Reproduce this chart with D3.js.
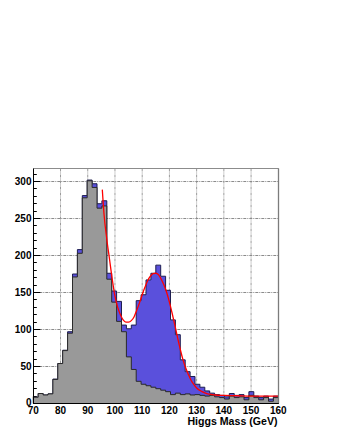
<!DOCTYPE html>
<html>
<head>
<meta charset="utf-8">
<script src="https://cdn.jsdelivr.net/npm/d3@7"></script>
<style>
  html, body { margin: 0; padding: 0; background: #fff; }
  svg { display: block; }
  text { font-family: "Liberation Sans", Arial, Helvetica, sans-serif; font-weight: bold; fill: #000; }
</style>
</head>
<body>
<div id="chart"></div>
<script>
// ---- data ----
const massMin = 70;
const massMax = 160;
const binWidth = 1.8;
// total (signal + background), drawn blue underneath
const totalCounts = [8.5, 13.5, 11.5, 13, 33, 54, 72, 97, 175, 208,
  281, 302, 297, 270, 274, 176, 152, 138, 106, 101,
  106, 139, 147, 167, 176, 187, 172, 153, 113, 93,
  59, 43, 36.5, 26, 22, 17, 14, 12, 11, 9,
  13.5, 11, 12, 8, 16, 10, 8, 10, 6, 10];
// background only, drawn grey on top
const backgroundCounts = [8.5, 13.5, 11.5, 13, 32.5, 54, 71.5, 95, 171, 203,
  278, 301, 292, 264, 267, 168, 137, 111, 97, 63,
  46, 30, 26, 24, 22, 20, 18, 16, 12, 14,
  12, 13, 11.5, 12, 11, 10, 11, 9, 8, 6,
  10, 8, 9, 5, 11, 8, 5, 8, 3, 8];
// fitted curve
const fitMass  = [95.35, 96, 97, 98, 99, 100, 101, 102, 103, 104, 105, 106, 107, 108, 109, 110,
  111, 112, 113, 114, 115, 116, 117, 118, 119, 120, 121, 122, 123, 124, 125, 126, 127, 128,
  129, 130, 132, 134, 137, 140, 145, 150, 155, 160];
const fitValue = [289, 255, 222, 195, 168, 145, 130, 120, 113, 110, 110, 112, 117, 126, 136, 147,
  157, 166, 172, 175.5, 176, 174, 168, 160, 150, 137, 122, 106, 89, 73, 59, 48, 39, 31,
  25.5, 21, 16, 13, 11.5, 11, 10.5, 10, 10, 10];
const xTicks = [70, 80, 90, 100, 110, 120, 130, 140, 150, 160];
const yTicks = [0, 50, 100, 150, 200, 250, 300];
const yMax = 317.6;
const xTitle = "Higgs Mass (GeV)";

// ---- layout ----
const W = 337, H = 436;
const pL = 33.3, pR = 278.3, pT = 168.5, pB = 403.5;

const svg = d3.select("#chart").append("svg").attr("width", W).attr("height", H);
svg.append("rect").attr("width", W).attr("height", H).attr("fill", "#fff");

const x = d3.scaleLinear().domain([massMin, massMax]).range([pL, pR]);
const y = d3.scaleLinear().domain([0, yMax]).range([pB, pT]);

// grid
const grid = svg.append("g");
grid.selectAll("line.vg").data(xTicks.filter(d => d > massMin && d < massMax)).join("line")
  .attr("x1", d => x(d)).attr("x2", d => x(d)).attr("y1", pT).attr("y2", pB)
  .attr("stroke", "#9a9a9a").attr("stroke-width", 1).attr("stroke-dasharray", "3,1,1,1");
grid.selectAll("line.hg").data(yTicks.filter(d => d > 0)).join("line")
  .attr("x1", pL).attr("x2", pR).attr("y1", d => y(d)).attr("y2", d => y(d))
  .attr("stroke", "#8a8a8a").attr("stroke-width", 1).attr("stroke-dasharray", "3,1,1,1");

// ticks (inside the frame)
const yMinor = d3.range(0, yMax, 10);
svg.append("g").selectAll("line").data(yMinor).join("line")
  .attr("x1", pL).attr("x2", d => pL + (d % 50 === 0 ? 7 : 3.5))
  .attr("y1", d => Math.round(y(d) - 0.5) + 0.5).attr("y2", d => Math.round(y(d) - 0.5) + 0.5)
  .attr("stroke", "#000").attr("stroke-width", 1);
const xMinor = d3.range(massMin, massMax + 0.01, 2);
svg.append("g").selectAll("line").data(xMinor).join("line")
  .attr("x1", d => x(d)).attr("x2", d => x(d))
  .attr("y1", pB).attr("y2", d => pB - ((d - massMin) % 10 === 0 ? 7 : 3.5))
  .attr("stroke", "#000").attr("stroke-width", 1);

// histograms
function toSteps(counts) {
  const pts = counts.map((v, i) => ({ m: massMin + i * binWidth, v }));
  pts.push({ m: massMax, v: counts[counts.length - 1] });
  return pts;
}
const area = d3.area().curve(d3.curveStepAfter)
  .x(d => x(d.m)).y0(y(0)).y1(d => y(d.v));
const line = d3.line().curve(d3.curveStepAfter)
  .x(d => x(d.m)).y(d => y(d.v));

const totalPts = toSteps(totalCounts);
const bgPts = toSteps(backgroundCounts);

svg.append("path").datum(totalPts).attr("d", area).attr("fill", "#5a50dc");
svg.append("path").datum(totalPts).attr("d", line).attr("fill", "none")
  .attr("stroke", "#1e1e50").attr("stroke-width", 1);
svg.append("path").datum(bgPts).attr("d", area).attr("fill", "#999999");
svg.append("path").datum(bgPts).attr("d", line).attr("fill", "none")
  .attr("stroke", "#2a2a2a").attr("stroke-width", 1);

// fit
const fitPts = fitMass.map((m, i) => ({ m, v: fitValue[i] }));
svg.append("path").datum(fitPts)
  .attr("d", d3.line().curve(d3.curveMonotoneX).x(d => x(d.m)).y(d => y(d.v)))
  .attr("fill", "none").attr("stroke", "#ff0000").attr("stroke-width", 1.3);

// frame
svg.append("line").attr("x1", pL).attr("x2", pR + 0.5).attr("y1", pT).attr("y2", pT)
  .attr("stroke", "#8c8c8c").attr("stroke-width", 1);
svg.append("line").attr("x1", pR + 0.2).attr("x2", pR + 0.2).attr("y1", pT).attr("y2", pB)
  .attr("stroke", "#7c7c7c").attr("stroke-width", 1.3);
svg.append("line").attr("x1", 33.5).attr("x2", 33.5).attr("y1", pT).attr("y2", pB + 0.5)
  .attr("stroke", "#000").attr("stroke-width", 1);
svg.append("line").attr("x1", pL).attr("x2", pR + 0.5).attr("y1", pB).attr("y2", pB)
  .attr("stroke", "#000").attr("stroke-width", 1);

// labels
svg.append("g").selectAll("text").data(yTicks).join("text")
  .attr("x", 31.5).attr("y", d => y(d)).attr("dy", d => d === 0 ? "0.2em" : "0.35em")
  .attr("text-anchor", "end").attr("font-size", 10).text(d => d);
svg.append("g").selectAll("text").data(xTicks).join("text")
  .attr("x", d => x(d)).attr("y", 413.5).attr("text-anchor", "middle")
  .attr("font-size", 10).text(d => d);
svg.append("text").attr("x", 277.5).attr("y", 424.5).attr("text-anchor", "end")
  .attr("font-size", 10.6).text(xTitle);
</script>
</body>
</html>
